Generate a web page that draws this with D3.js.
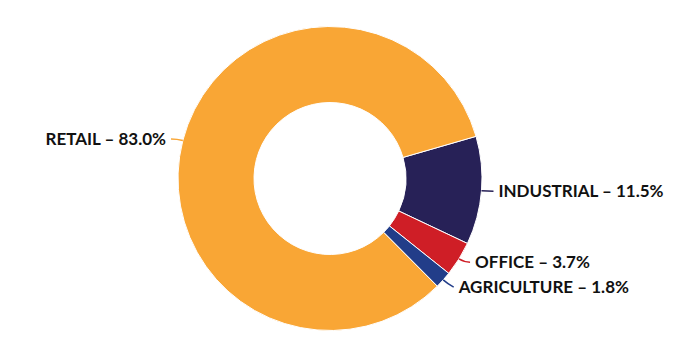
<!DOCTYPE html>
<html>
<head>
<meta charset="utf-8">
<script src="https://cdn.jsdelivr.net/npm/d3@7"></script>
<style>
  body { margin: 0; background: #fff; }
  svg { display: block; }
</style>
</head>
<body>
<svg id="donut" width="677" height="355"></svg>
<script>
// données du graphique
const categories = ["INDUSTRIAL", "OFFICE", "AGRICULTURE", "RETAIL"];
const shares = [11.5, 3.7, 1.8, 83.0];
const colors = ["#272157", "#cf1e26", "#223d89", "#f9a635"];

const width = 677;
const height = 355;
const cx = 330, cy = 178.5;
const outerR = 152, innerR = 76;
const startDeg = 73.9;

const svg = d3.select("#donut");
const g = svg.append("g").attr("transform", `translate(${cx},${cy})`);

const data = categories.map((c, i) => ({ name: c, value: shares[i], color: colors[i] }));

const pie = d3.pie().sort(null).value(d => d.value)
    .startAngle(startDeg * Math.PI / 180)
    .endAngle(startDeg * Math.PI / 180 + 2 * Math.PI);
const arc = d3.arc().innerRadius(innerR).outerRadius(outerR);
const arcs = pie(data);

g.selectAll("path.slice").data(arcs).enter().append("path")
    .attr("class", "slice")
    .attr("d", arc)
    .attr("fill", d => d.data.color)
    .attr("stroke", "#fff")
    .attr("stroke-width", 1);

// petits traits de rappel + étiquettes
const polar = (r, a) => [r * Math.sin(a), -r * Math.cos(a)];

// position des étiquettes, écartées si elles se chevauchent
const labels = arcs.map(d => {
    const mid = (d.startAngle + d.endAngle) / 2;
    const right = Math.sin(mid) >= 0;
    const p0 = polar(outerR, mid);
    const p1 = polar(outerR + 6, mid);
    return { d, mid, right, p0, p1, y: p1[1] };
});
[true, false].forEach(side => {
    const list = labels.filter(l => l.right === side).sort((a, b) => a.y - b.y);
    for (let i = 1; i < list.length; i++) {
        if (list[i].y - list[i - 1].y < 25) list[i].y = list[i - 1].y + 25;
    }
});

labels.forEach(l => {
    const dx = l.right ? 6 : -6;
    const p2 = [l.p1[0] + dx, l.y];

    g.append("path")
        .attr("d", `M${l.p0[0]},${l.p0[1]} Q${l.p1[0]},${l.p1[1]} ${p2[0]},${p2[1]}`)
        .attr("fill", "none")
        .attr("stroke", l.d.data.color)
        .attr("stroke-width", 1.5);

    g.append("text")
        .attr("x", p2[0] + (l.right ? 5 : -5))
        .attr("y", p2[1])
        .attr("dy", "0.35em")
        .attr("text-anchor", l.right ? "start" : "end")
        .style("font-family", "Lato, 'Open Sans', sans-serif")
        .style("font-weight", "bold")
        .style("font-size", "17px")
        .style("fill", "#111")
        .text(`${l.d.data.name} – ${d3.format(".1f")(l.d.data.value)}%`);
});
</script>
</body>
</html>
